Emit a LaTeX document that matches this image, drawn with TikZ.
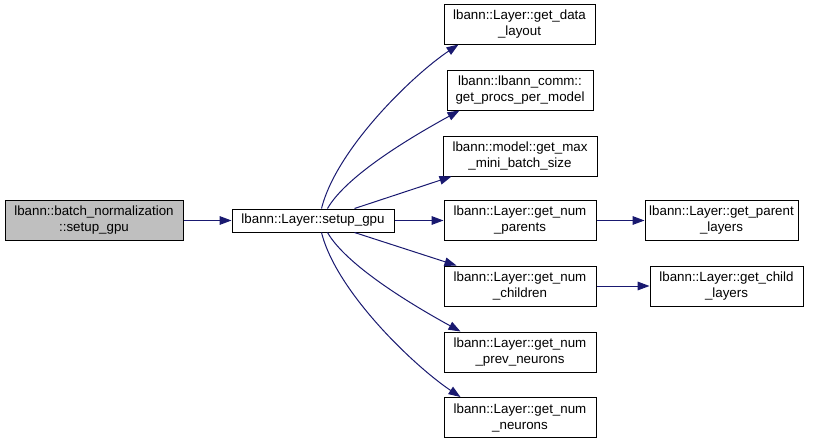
\documentclass[tikz,border=0pt]{standalone}
\usepackage{fontspec}
\setmainfont{Liberation Sans}
\usetikzlibrary{arrows.meta,calc}
\definecolor{edgeblue}{RGB}{25,25,112}
\definecolor{rootgray}{RGB}{191,191,191}
\begin{document}
\begin{tikzpicture}[x=0.75pt,y=-0.75pt,
  box/.style={draw=black,line width=0.75pt,fill=white,inner sep=0pt,align=center,
    font=\fontsize{10}{12}\selectfont,minimum height=30pt},
  edge/.style={draw=edgeblue,line width=0.75pt,-{Triangle[length=9pt,width=6.5pt]}}]
\useasboundingbox (0,0) rectangle (813,443);
\node[box,fill=rootgray,minimum width=133.5pt] (root) at (94,220.5) {lbann::batch\_normalization\\::setup\_gpu};
\node[box,minimum width=121.5pt,minimum height=17.25pt] (setup) at (313,220.5) {lbann::Layer::setup\_gpu};
\node[box,minimum width=113.25pt] (data) at (519.5,24) {lbann::Layer::get\_data\\\_layout};
\node[box,minimum width=109.5pt] (procs) at (520,90) {lbann::lbann\_comm::\\get\_procs\_per\_model};
\node[box,minimum width=115.5pt] (max) at (520,156) {lbann::model::get\_max\\\_mini\_batch\_size};
\node[box,minimum width=114pt] (parents) at (520,220.5) {lbann::Layer::get\_num\\\_parents};
\node[box,minimum width=114pt] (children) at (520,286) {lbann::Layer::get\_num\\\_children};
\node[box,minimum width=114pt] (prev) at (520,352) {lbann::Layer::get\_num\\\_prev\_neurons};
\node[box,minimum width=114pt] (neurons) at (520,417.5) {lbann::Layer::get\_num\\\_neurons};
\node[box,minimum width=114.75pt] (players) at (721.5,220.5) {lbann::Layer::get\_parent\\\_layers};
\node[box,minimum width=114.75pt] (clayers) at (726.5,286) {lbann::Layer::get\_child\\\_layers};

\draw[edge] (root) -- (setup);
\draw[edge] ($(setup.north west)+(90,0)$) .. controls +(15,-60) and +(-45,30) .. ($(data.south west)+(15,0)$);
\draw[edge] ($(setup.north west)+(96,0)$) .. controls +(20,-35) and +(-40,22) .. ($(procs.south west)+(13,0)$);
\draw[edge] ($(setup.north west)+(123,0)$) -- ($(max.south west)+(9,0)$);
\draw[edge] (setup) -- (parents);
\draw[edge] ($(setup.south west)+(123,0)$) -- ($(children.north west)+(13,0)$);
\draw[edge] ($(setup.south west)+(96,0)$) .. controls +(20,35) and +(-40,-22) .. ($(prev.north west)+(17,0)$);
\draw[edge] ($(setup.south west)+(90,0)$) .. controls +(15,60) and +(-45,-30) .. ($(neurons.north west)+(17,0)$);
\draw[edge] (parents) -- (players);
\draw[edge] (children) -- (clayers);
\end{tikzpicture}
\end{document}
